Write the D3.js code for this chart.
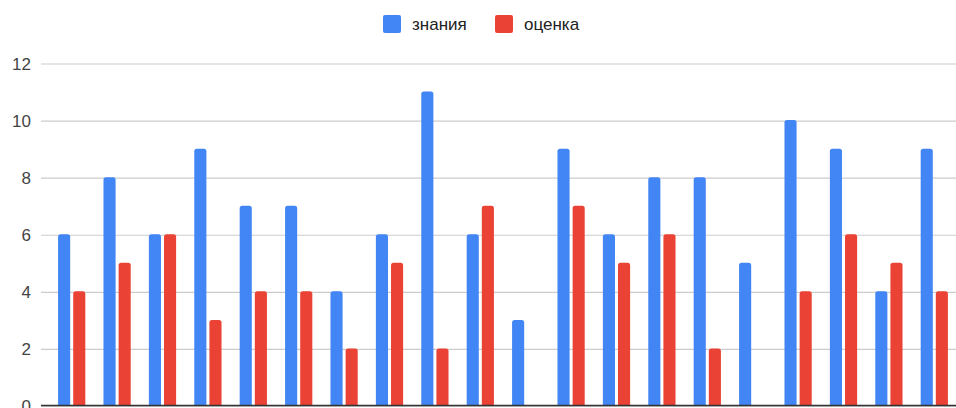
<!DOCTYPE html>
<html>
<head>
<meta charset="utf-8">
<script src="https://cdn.jsdelivr.net/npm/d3@7"></script>
<style>
  html, body { margin: 0; padding: 0; background: #fff; }
  svg { display: block; font-family: "Liberation Sans", Arial, sans-serif; }
</style>
</head>
<body>
<div id="chart"></div>
<script>
(function() {
// data
var categories = d3.range(1, 21).map(String);
var seriesNames = ["знания", "оценка"];
var znaniya = [6, 8, 6, 9, 7, 7, 4, 6, 11, 6, 3, 9, 6, 8, 8, 5, 10, 9, 4, 9];
var otsenka = [4, 5, 6, 3, 4, 4, 2, 5, 2, 7, 0, 7, 5, 6, 2, 0, 4, 6, 5, 4];
var yTicks = [0, 2, 4, 6, 8, 10, 12];
var colors = ["#4285f4", "#ea4335"];

var width = 956, height = 408;
var grid = {left: 41, right: 956};

var svg = d3.select("#chart").append("svg")
    .attr("width", width)
    .attr("height", height);

var x0 = d3.scaleBand()
    .domain(categories)
    .range([49, 957])
    .paddingInner(0.4)
    .paddingOuter(0.2);

var x1 = d3.scaleBand()
    .domain(seriesNames)
    .range([0, x0.bandwidth()])
    .paddingInner(0.2);

var y = d3.scaleLinear()
    .domain([0, 12])
    .range([405.5, 63]);

/**
 * Gridlines and tick labels.
 */
var yAxis = d3.axisLeft(y)
    .tickValues(yTicks)
    .tickSize(-(grid.right - grid.left))
    .tickPadding(10);

var yGroup = svg.append("g")
    .attr("transform", "translate(" + grid.left + ",0)")
    .call(yAxis);
yGroup.select(".domain").remove();
yGroup.selectAll(".tick line")
    .attr("stroke", "#cccccc")
    .attr("stroke-width", 1.2)
    .attr("transform", "translate(0,0.5)");
yGroup.selectAll(".tick text")
    .attr("fill", "#444444")
    .attr("font-size", 17)
    .attr("dy", "0.36em")
    .attr("x", -10);

/**
 * Rounded-top bar path.
 */
var barPath = function(x, yTop, w, h, r) {
    r = Math.min(r, h, w / 2);
    return "M" + x + "," + (yTop + h) +
        "V" + (yTop + r) +
        "Q" + x + "," + yTop + " " + (x + r) + "," + yTop +
        "H" + (x + w - r) +
        "Q" + (x + w) + "," + yTop + " " + (x + w) + "," + (yTop + r) +
        "V" + (yTop + h) + "Z";
};

var rows = categories.map(function(c, i) {
    return {cat: c, values: [
        {key: seriesNames[0], value: znaniya[i], color: colors[0]},
        {key: seriesNames[1], value: otsenka[i], color: colors[1]}
    ]};
});

var groups = svg.append("g").selectAll("g")
    .data(rows)
    .join("g")
    .attr("transform", function(d) { return "translate(" + x0(d.cat) + ",0)"; });

groups.selectAll("path")
    .data(function(d) { return d.values.filter(function(v) { return v.value > 0; }); })
    .join("path")
    .attr("fill", function(d) { return d.color; })
    .attr("d", function(d) {
        return barPath(x1(d.key), y(d.value), x1.bandwidth(), y(0) - y(d.value), 2.5);
    });

// baseline
svg.append("line")
    .attr("x1", grid.left).attr("x2", grid.right)
    .attr("y1", y(0)).attr("y2", y(0))
    .attr("stroke", "#333333")
    .attr("stroke-width", 1.3);

/**
 * Legend.
 */
var legendItems = [
    {name: seriesNames[0], color: colors[0], x: 383},
    {name: seriesNames[1], color: colors[1], x: 495}
];

var legend = svg.append("g").selectAll("g")
    .data(legendItems)
    .join("g")
    .attr("transform", function(d) { return "translate(" + d.x + ",15)"; });

legend.append("rect")
    .attr("width", 18)
    .attr("height", 18)
    .attr("rx", 2)
    .attr("fill", function(d) { return d.color; });

legend.append("text")
    .attr("x", 29)
    .attr("y", 9)
    .attr("dy", "0.35em")
    .attr("font-size", 17)
    .attr("fill", "#222222")
    .text(function(d) { return d.name; });
})();
</script>
</body>
</html>
